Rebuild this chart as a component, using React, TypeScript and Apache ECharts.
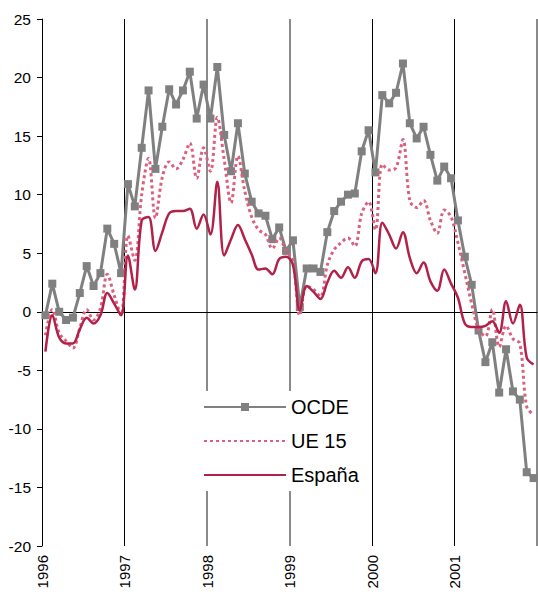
import React, { useEffect, useRef } from 'react';
import * as echarts from 'echarts';

const years = ['1996', '1997', '1998', '1999', '2000', '2001'];
const monthNames = ['01', '02', '03', '04', '05', '06', '07', '08', '09', '10', '11', '12'];

const seriesNames = ['OCDE', 'UE 15', 'España'];

const ocde = [
  -0.3, 2.4, 0.0, -0.7, -0.5, 1.6, 3.9, 2.2, 3.3, 7.1, 5.8, 3.3,
  10.9, 9.0, 14.0, 18.9, 12.2, 15.8, 19.0, 17.7, 18.9, 20.5, 16.5, 19.4,
  16.5, 20.9, 15.1, 12.0, 16.1, 11.8, 9.4, 8.4, 8.2, 6.2, 7.2, 5.2,
  6.1, 0.4, 3.7, 3.7, 3.4, 6.8, 8.6, 9.4, 10.0, 10.1, 13.7, 15.5,
  11.9, 18.5, 17.8, 18.7, 21.2, 16.1, 14.8, 15.8, 13.4, 11.2, 12.4, 11.4,
  7.8, 4.7, 2.3, -1.6, -4.3, -2.6, -6.9, -3.2, -6.8, -7.5, -13.7, -14.2,
];

const ue15 = [
  -2.0, 0.2, -1.8, -2.5, -3.1, -1.4, 0.2, -0.7, 0.3, 3.2, 1.4, -0.3,
  6.5, 4.4, 10.0, 13.1, 8.0, 11.5, 12.8, 12.2, 13.0, 14.4, 11.4, 14.0,
  12.0, 16.6, 13.0, 9.3, 13.3, 10.3, 8.1, 7.0, 6.6, 5.4, 6.3, 5.2,
  4.3, -0.3, 2.2, 1.9, 1.3, 4.0, 5.3, 5.9, 6.3, 5.6, 8.4, 9.4,
  7.0, 12.6, 12.1, 12.3, 14.7, 9.5, 8.9, 9.5, 7.8, 6.7, 8.7, 8.1,
  5.9, 3.3, 0.7, -1.5, -2.1, 0.2, -3.0, -1.2, -2.3, -2.7, -8.1, -8.8,
];

const espana = [
  -3.4, -0.3, -2.2, -2.7, -2.7, -1.5, -0.5, -1.0, -0.3, 1.6, 0.7, -0.3,
  4.8, 1.9, 7.8, 8.1, 5.2, 6.8, 8.4, 8.6, 8.6, 8.8, 7.1, 8.3,
  6.6, 11.1, 4.8, 6.2, 7.4, 6.2, 4.9, 3.6, 3.7, 3.2, 4.5, 4.7,
  4.0, 0.1, 2.2, 1.7, 1.1, 2.5, 3.5, 2.9, 3.8, 2.9, 4.3, 4.5,
  3.3, 7.6, 6.6, 5.4, 6.8, 4.6, 3.3, 4.2, 2.6, 1.8, 3.6, 2.4,
  1.2, -1.0, -1.3, -1.3, -1.2, -0.8, -1.8, 0.9, -1.0, 0.6, -3.9, -4.5,
];

const yMin = -20;
const yMax = 25;
const yStep = 5;

const FONT = "'Liberation Sans', Arial, Helvetica, sans-serif";

export default function App() {
  const ref = useRef<HTMLDivElement>(null);

  useEffect(() => {
    if (!ref.current) return;
    const chart = echarts.init(ref.current, null, { renderer: 'svg' });
    const categories = years.flatMap((y) => monthNames.map((m) => `${y}-${m}`));
    const nMonths = categories.length;

    chart.setOption({
      animation: false,
      backgroundColor: '#ffffff',
      textStyle: { fontFamily: FONT },
      grid: { left: 42, right: 1, top: 19, bottom: 46, containLabel: false },
      legend: {
        data: [
          { name: seriesNames[0] },
          { name: seriesNames[1], itemStyle: { opacity: 0 } },
          { name: seriesNames[2], itemStyle: { opacity: 0 } },
        ],
        orient: 'vertical',
        left: 198,
        top: 391,
        padding: [6, 5],
        itemGap: 14,
        itemWidth: 82,
        itemHeight: 10,
        backgroundColor: '#ffffff',
        textStyle: { fontSize: 20, color: '#000', fontFamily: FONT },
      },
      xAxis: [
        {
          type: 'category',
          data: categories,
          boundaryGap: true,
          position: 'bottom',
          axisLine: { show: true, onZero: true, lineStyle: { color: '#000', width: 1 } },
          axisTick: { show: false },
          axisLabel: { show: false },
          splitLine: { show: false },
        },
        {
          type: 'value',
          min: 0,
          max: nMonths,
          interval: 12,
          position: 'bottom',
          axisLine: { show: false, onZero: false },
          axisTick: { show: false },
          axisLabel: {
            show: true,
            rotate: 90,
            fontSize: 15,
            color: '#000',
            margin: 9,
            fontFamily: FONT,
            formatter: (v: number) => years[Math.round(v / 12)] ?? '',
          },
          splitLine: {
            show: true,
            lineStyle: {
              color: ['#000', '#000', 'transparent', 'transparent', '#000', '#000', 'transparent'],
              width: 1,
            },
          },
        },
        {
          type: 'value',
          min: 0,
          max: nMonths,
          interval: 12,
          position: 'bottom',
          axisLine: { show: false, onZero: false },
          axisTick: { show: false },
          axisLabel: { show: false },
          splitLine: {
            show: true,
            lineStyle: {
              color: ['transparent', 'transparent', '#8a8a8a', '#8a8a8a', 'transparent', 'transparent', '#8a8a8a'],
              width: 2,
            },
          },
        },
      ],
      yAxis: {
        type: 'value',
        min: yMin,
        max: yMax,
        interval: yStep,
        axisLine: { show: true, lineStyle: { color: '#000', width: 1 } },
        axisTick: { show: true, length: 5, lineStyle: { color: '#000', width: 1 } },
        axisLabel: { fontSize: 15.5, color: '#000', margin: 11, fontFamily: FONT },
        splitLine: { show: false },
      },
      series: [
        {
          name: seriesNames[0],
          type: 'line',
          xAxisIndex: 0,
          data: ocde,
          symbol: 'rect',
          symbolSize: 8,
          showAllSymbol: true,
          smooth: false,
          itemStyle: { color: '#808080' },
          lineStyle: { color: '#808080', width: 3 },
          z: 3,
        },
        {
          name: seriesNames[1],
          type: 'line',
          xAxisIndex: 0,
          data: ue15,
          symbol: 'none',
          smooth: 0.35,
          itemStyle: { color: '#d9607f' },
          lineStyle: { color: '#d9607f', width: 3, type: [3, 3] },
          z: 4,
        },
        {
          name: seriesNames[2],
          type: 'line',
          xAxisIndex: 0,
          data: espana,
          symbol: 'none',
          smooth: 0.35,
          itemStyle: { color: '#b1214a' },
          lineStyle: { color: '#b1214a', width: 2.5 },
          z: 5,
        },
      ],
    });

    return () => chart.dispose();
  }, []);

  return (
    <div
      ref={ref}
      style={{ position: 'fixed', left: 0, top: 0, width: 538, height: 592, background: '#fff' }}
    />
  );
}
